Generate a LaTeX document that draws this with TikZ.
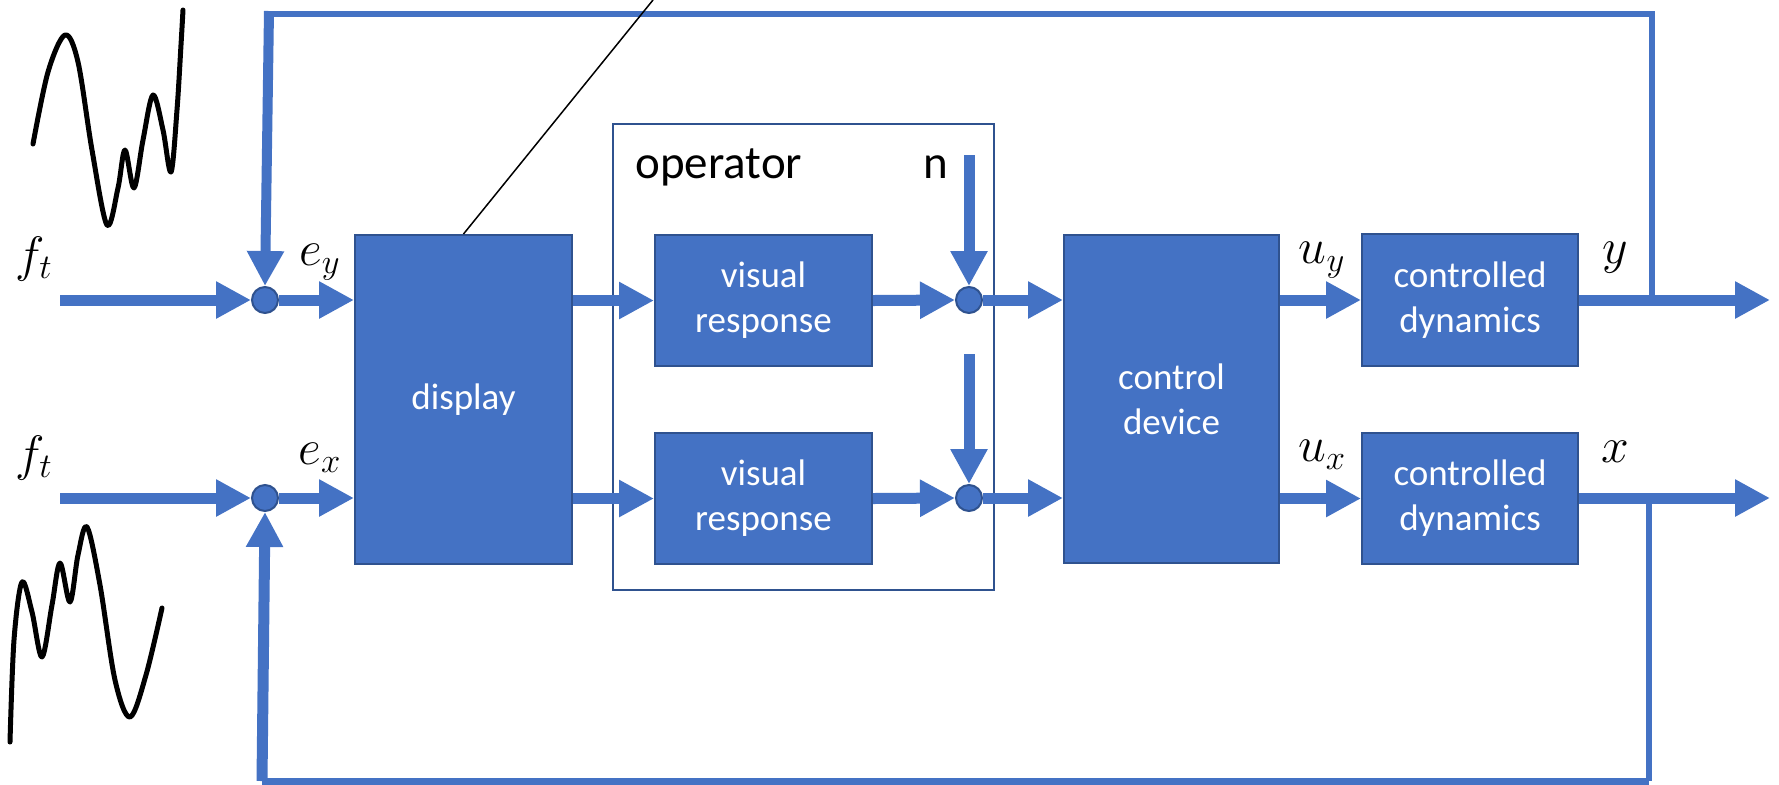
\documentclass[tikz,border=0pt]{standalone}
\usepackage{fontspec}
\setmainfont{Carlito}
\usetikzlibrary{arrows.meta}
\definecolor{sigblue}{HTML}{4472C4}
\definecolor{edgeblue}{HTML}{2F528F}

\begin{document}
\begin{tikzpicture}[x=0.5pt,y=-0.5pt,
  blk/.style={draw=edgeblue, line width=1pt, fill=sigblue, text=white,
    font=\fontsize{18.5}{22.5}\selectfont, align=center, inner sep=0pt},
  junc/.style={circle, draw=edgeblue, line width=1pt, fill=sigblue,
    minimum size=13pt, inner sep=0pt},
  sig/.style={draw=sigblue, line width=5.5pt,
    -{Triangle[length=17.5pt,width=17.5pt]}},
  fb/.style={draw=sigblue, line width=3pt},
  lbl/.style={font=\fontsize{24}{28}\selectfont, inner sep=0pt},
  ttl/.style={font=\fontsize{23.5}{28}\selectfont, inner sep=0pt, anchor=base west},
  wave/.style={line width=2.5pt, line cap=round, line join=round}
]
\useasboundingbox (0,0) rectangle (1779,784);

% operator frame
\node[draw=edgeblue, line width=1pt, fill=white, minimum width=190.5pt,
      minimum height=233pt, inner sep=0pt] (op) at (803.5,357) {};
\node[ttl] (optitle) at (635,178) {operator};
\node[ttl] (noise) at (923,178) {n};

% blocks
\node[blk, minimum width=108.5pt, minimum height=164.5pt] (disp) at (463.5,399.5) {display};
\node[blk, minimum width=108.5pt, minimum height=65.5pt] (vr1) at (763.5,300.5) {visual\\response};
\node[blk, minimum width=108.5pt, minimum height=65.5pt] (vr2) at (763.5,498.5) {visual\\response};
\node[blk, minimum width=107.5pt, minimum height=164pt] (ctrl) at (1171.5,399) {control\\device};
\node[blk, minimum width=108pt, minimum height=66pt] (cd1) at (1470,300) {controlled\\dynamics};
\node[blk, minimum width=108pt, minimum height=65.5pt] (cd2) at (1470,498.5) {controlled\\dynamics};

% summing junctions
\node[junc] (s1) at (265,300) {};
\node[junc] (s2) at (265,498) {};
\node[junc] (n1) at (969,300) {};
\node[junc] (n2) at (969,498) {};

% free ends and corners
\coordinate (in1) at (60,300);
\coordinate (in2) at (60,498);
\coordinate (nz1) at (969,155);
\coordinate (nz2) at (969,354);
\coordinate (out1) at (1770,300);
\coordinate (out2) at (1770,498);
\coordinate (tapY) at (1652,300);
\coordinate (tapX) at (1649,498);
\coordinate (cTR) at (1652,14);
\coordinate (cTL) at (266,14);
\coordinate (cTLv) at (269,11);
\coordinate (cBR) at (1649,781);
\coordinate (cBL) at (262,781);
\coordinate (ptr) at (653,0);

% forward signal paths
\draw[sig] (in1) -- (s1);
\draw[sig] (in2) -- (s2);
\draw[sig] (s1.east) -- (s1 -| disp.west);
\draw[sig] (s2.east) -- (s2 -| disp.west);
\draw[sig] (disp.east |- vr1) -- (vr1.west);
\draw[sig] (disp.east |- vr2) -- (vr2.west);
\draw[sig] (vr1.east) -- (n1.west);
\draw[sig] (vr2.east) -- (n2.west);
\draw[sig] (nz1) -- (n1.north);
\draw[sig] (nz2) -- (n2.north);
\draw[sig] (n1.east) -- (n1 -| ctrl.west);
\draw[sig] (n2.east) -- (n2 -| ctrl.west);
\draw[sig] (ctrl.east |- cd1) -- (cd1.west);
\draw[sig] (ctrl.east |- cd2) -- (cd2.west);
\draw[sig] (cd1.east) -- (out1);
\draw[sig] (cd2.east |- out2) -- (out2);

% feedback loops
\draw[fb] (tapY) -- (cTR) -- (cTL);
\draw[sig, line width=5pt] (cTLv) -- (s1.north);
\draw[fb] (tapX) -- (cBR);
\draw[fb, line width=3.5pt] (cBR) -- (cBL);
\draw[sig] (cBL) -- (s2.south);

% pointer line from the display
\draw[line width=0.75pt] (disp.north) -- (ptr);

% signal labels
\node[lbl] (lf1) at (34,259) {$f_t$};
\node[lbl] (lf2) at (34,458) {$f_t$};
\node[lbl] (ley) at (320,262) {$e_y$};
\node[lbl] (lex) at (320,458) {$e_x$};
\node[lbl] (luy) at (1322,260) {$u_y$};
\node[lbl] (lux) at (1322,455) {$u_x$};
\node[lbl] (ly) at (1615,258) {$y$};
\node[lbl] (lx) at (1615,452) {$x$};

% forcing function sketches
\draw[wave] plot[smooth, tension=0.55] coordinates {
  (33,144) (48,72) (65,35) (78,62) (92,150) (107,225) (118,188) (125,150)
  (134,188) (143,140) (153,95) (163,130) (171,172) (177,110) (181,45) (183,10)};
\draw[wave] plot[smooth, tension=0.55] coordinates {
  (10,742) (14,640) (22,582) (32,612) (42,657) (52,605) (60,563) (70,602)
  (78,555) (87,527) (100,585) (115,680) (130,717) (146,675) (162,608)};
\end{tikzpicture}
\end{document}
